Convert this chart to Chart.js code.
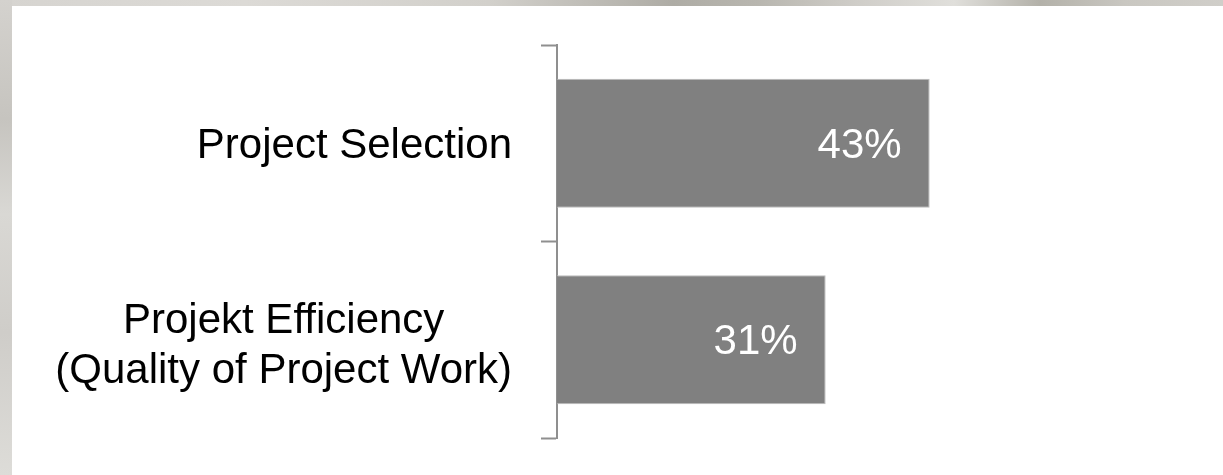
<!DOCTYPE html>
<html>
<head>
<meta charset="utf-8">
<script src="https://cdn.jsdelivr.net/npm/chart.js@4.4.1/dist/chart.umd.min.js"></script>
<style>
  html, body { margin: 0; padding: 0; }
  body {
    width: 1223px; height: 475px; overflow: hidden; position: relative;
    background: linear-gradient(to right, #d6d4d0 0%, #dcdad6 20%, #d2d0cb 40%, #aeaca5 55%, #b8b6af 62%, #cfcdc8 70%, #e0dfdb 78%, #b3b1a9 85%, #c9c7c1 92%, #d0cec9 100%);
  }
  #leftStrip {
    position: absolute; left: 0; top: 0; width: 12px; height: 475px;
    background: linear-gradient(to bottom, #d4d2ce 0%, #c6c4bf 25%, #d9d8d4 45%, #cfcdc9 70%, #dddcd8 100%);
  }
  #wrap {
    position: absolute; left: 12px; top: 6px; width: 1211px; height: 469px; background: #ffffff;
  }
</style>
</head>
<body>
<div id="leftStrip"></div>
<div id="wrap"><canvas id="c" width="1211" height="469"></canvas></div>
<script>
// ---- data ----
const categories = [
  ['Project Selection'],
  ['Projekt Efficiency', '(Quality of Project Work)']
];
const values = [43, 31];
const valueLabels = ['43%', '31%'];
const xMax = 75;

// ---- styling ----
const FONT_FAMILY = '"Liberation Sans", Arial, sans-serif';
const FONT_SIZE = 42;
const LINE_HEIGHT = 50;
const TICK_LEN = 16;
const LABEL_GAP = 29;
const VALUE_PAD = 28;
const TEXT_SHIFT = 3;
const MULTI_SHIFT = 4;

const labelPlugin = {
  id: 'customLabels',
  afterDatasetsDraw(chart) {
    const ctx = chart.ctx;
    const yScale = chart.scales.y;
    const meta = chart.getDatasetMeta(0);
    ctx.save();
    ctx.font = FONT_SIZE + 'px ' + FONT_FAMILY;
    ctx.textBaseline = 'middle';
    ctx.fillStyle = '#000000';
    ctx.textAlign = 'center';
    yScale.ticks.forEach((t, i) => {
      const lines = categories[i];
      const w = Math.max(...lines.map(l => ctx.measureText(l).width));
      const cx = yScale.right - TICK_LEN - LABEL_GAP - w / 2;
      const cy = yScale.getPixelForTick(i) + TEXT_SHIFT + (lines.length > 1 ? MULTI_SHIFT : 0);
      lines.forEach((l, j) => {
        ctx.fillText(l, cx, cy + (j - (lines.length - 1) / 2) * LINE_HEIGHT);
      });
    });
    ctx.fillStyle = '#ffffff';
    ctx.textAlign = 'right';
    meta.data.forEach((bar, i) => {
      ctx.fillText(valueLabels[i], bar.x - VALUE_PAD, bar.y + TEXT_SHIFT);
    });
    ctx.restore();
  }
};

new Chart(document.getElementById('c'), {
  type: 'bar',
  data: {
    labels: categories,
    datasets: [{
      data: values,
      backgroundColor: '#808080',
      borderColor: '#bcbcbc',
      borderWidth: 1,
      barPercentage: 0.656,
      categoryPercentage: 1.0
    }]
  },
  options: {
    indexAxis: 'y',
    responsive: false,
    animation: false,
    events: [],
    layout: { padding: { left: 0, right: 16, top: 39, bottom: 37 } },
    plugins: { legend: { display: false }, tooltip: { enabled: false } },
    scales: {
      x: {
        display: false,
        min: 0,
        max: xMax
      },
      y: {
        type: 'category',
        offset: true,
        afterFit(scale) { scale.width = 545; },
        grid: {
          offset: true,
          drawOnChartArea: false,
          drawTicks: true,
          tickLength: TICK_LEN,
          tickWidth: 2,
          color: '#8f8f8f'
        },
        border: { display: true, color: '#8f8f8f', width: 2 },
        ticks: { display: false }
      }
    }
  },
  plugins: [labelPlugin]
});
</script>
</body>
</html>
